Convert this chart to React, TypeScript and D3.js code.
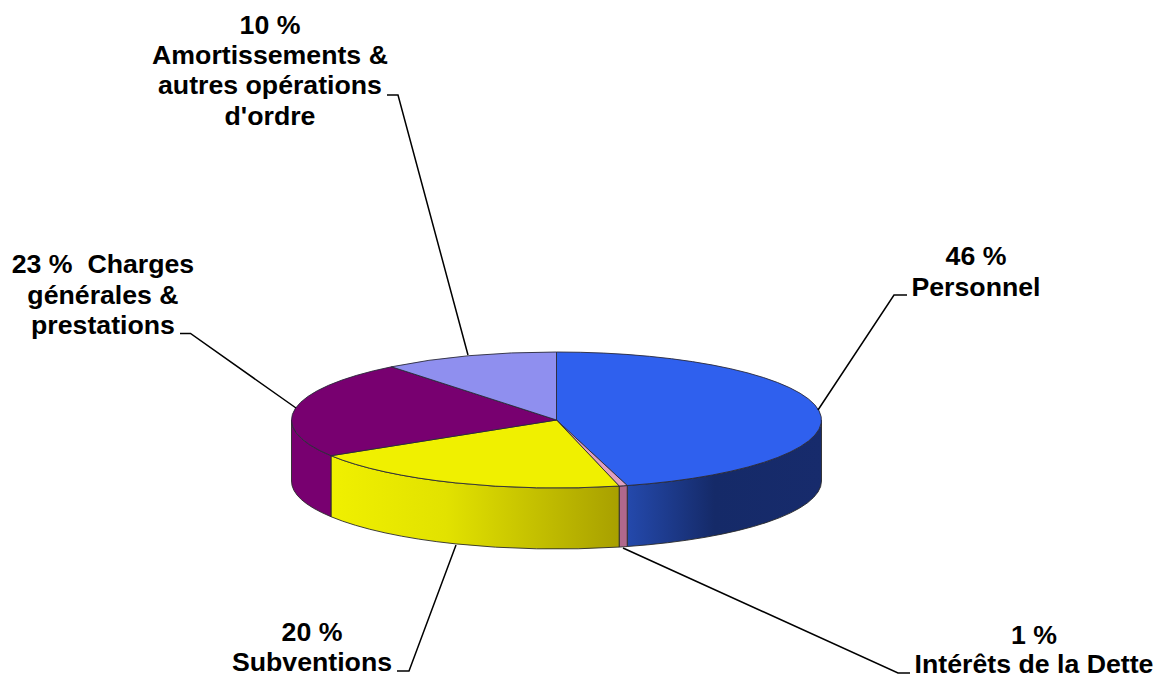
import React from "react";
import * as d3 from "d3";

const categories = ["Personnel", "Intérêts de la Dette", "Subventions", "Charges générales & prestations", "Amortissements & autres opérations d'ordre"];
const values = [45.7, 0.5, 20.0, 23.1, 10.7];
const topColors = ["#2f60ee", "#e0a0c0", "#f0f000", "#780070", "#8f8fef"];
const sideStops = [
  [["0", "#2449ac"], ["0.45", "#152a68"], ["1", "#172b6c"]],
  [["0", "#b0688c"], ["1", "#b0688c"]],
  [["0", "#f0f000"], ["0.4", "#e2e200"], ["1", "#a8a000"]],
  [["0", "#780070"], ["1", "#780070"]],
  [["0", "#8f8fef"], ["1", "#8f8fef"]],
];

const labelLines = [
  { cx: 976, lines: ["46 %", "Personnel"], baselines: [265, 296] },
  { cx: 1034, lines: ["1 %", "Intérêts de la Dette"], baselines: [644, 673] },
  { cx: 312, lines: ["20 %", "Subventions"], baselines: [641, 671] },
  { cx: 103, lines: ["23 %  Charges", "générales &", "prestations"], baselines: [273, 303.5, 334] },
  { cx: 270, lines: ["10 %", "Amortissements &", "autres opérations", "d'ordre"], baselines: [34, 64, 94, 125] },
];
const leaders: [number, number][][] = [
  [[907, 295], [894, 295], [818, 410]],
  [[910, 673], [898, 673], [623, 548]],
  [[397, 671], [409, 671], [456, 545]],
  [[180, 333.5], [190.5, 333.5], [296, 408]],
  [[387, 95], [398, 95], [468, 355]],
];

const W = 1157, H = 674;
const cx = 556.5, cy = 420, rx = 265, ry = 68, depth = 61;
const FRONT_START = Math.PI / 2, FRONT_END = (3 * Math.PI) / 2;

const pt = (a: number, dy = 0) => [cx + rx * Math.sin(a), cy - ry * Math.cos(a) + dy];

export default function App() {
  const arcs = d3.pie<number>().sort(null)(values);
  const arc = d3.arc<d3.PieArcDatum<number>>().innerRadius(0).outerRadius(rx);
  const line = d3.line();

  const sides = arcs.map((d, i) => {
    const a = Math.max(d.startAngle, FRONT_START);
    const b = Math.min(d.endAngle, FRONT_END);
    if (b <= a) return null;
    const [x0, y0] = pt(a);
    const [x1, y1] = pt(b);
    const [x2, y2] = pt(b, depth);
    const [x3, y3] = pt(a, depth);
    return {
      i, x0, x1,
      path: `M${x0},${y0}A${rx},${ry} 0 0 1 ${x1},${y1}L${x2},${y2}A${rx},${ry} 0 0 0 ${x3},${y3}Z`,
    };
  });

  return (
    <svg width={W} height={H} style={{ position: "absolute", left: 0, top: 0, display: "block", background: "#fff" }}>
      <defs>
        {sides.map((s) =>
          s ? (
            <linearGradient key={s.i} id={`side${s.i}`} gradientUnits="userSpaceOnUse"
              x1={Math.min(s.x0, s.x1)} x2={Math.max(s.x0, s.x1)} y1={0} y2={0}>
              {sideStops[s.i].map(([o, c]) => <stop key={o} offset={o} stopColor={c} />)}
            </linearGradient>
          ) : null
        )}
      </defs>
      <g>
        {sides.map((s) =>
          s ? <path key={s.i} d={s.path} fill={`url(#side${s.i})`} stroke="#2a2a2a" strokeWidth={0.9} strokeLinejoin="round" /> : null
        )}
      </g>
      <g transform={`translate(${cx},${cy}) scale(1,${ry / rx})`}>
        {arcs.map((d, i) => (
          <path key={categories[i]} d={arc(d) || ""} fill={topColors[i]} stroke="#2a2a3a" strokeWidth={0.9}
            vectorEffect="non-scaling-stroke" strokeLinejoin="round" />
        ))}
      </g>
      <g fill="none" stroke="#000" strokeWidth={1.5}>
        {leaders.map((l, i) => <path key={i} d={line(l) || ""} />)}
      </g>
      <g fontFamily="'Liberation Sans', Arial, sans-serif" fontWeight="700" fontSize={26.7} fill="#000" textAnchor="middle">
        {labelLines.map((l, i) =>
          l.lines.map((t, j) => (
            <text key={`${i}-${j}`} x={l.cx} y={l.baselines[j]} style={{ whiteSpace: "pre" }}>{t}</text>
          ))
        )}
      </g>
    </svg>
  );
}
